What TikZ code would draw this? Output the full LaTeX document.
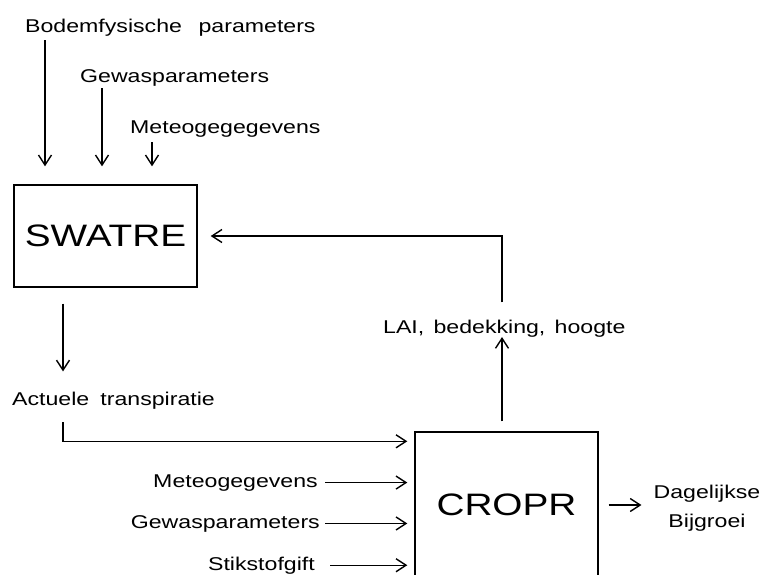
\documentclass[tikz,border=0pt]{standalone}
\usepackage{fontspec}
\setmainfont[FakeStretch=1.25]{Liberation Sans}
\usetikzlibrary{arrows.meta}
\begin{document}
\begin{tikzpicture}[x=1pt,y=-1pt,
  lbl/.style={inner sep=0pt, font=\fontsize{18.5}{29}\selectfont},
  box/.style={draw, line width=1.4pt, inner sep=0pt, font=\fontsize{31}{34}\selectfont},
  arr/.style={line width=1.4pt, -{Straight Barb[length=10pt,width=13pt]}}]
\useasboundingbox (0,0) rectangle (765,574);
\clip (0,0) rectangle (765,574);
% nodes
\node[lbl, anchor=base west] (bodem) at (25,32) {Bodemfysische\hspace{0.9em}parameters};
\node[lbl, anchor=base west] (gewas1) at (80,82) {Gewasparameters};
\node[lbl, anchor=base west] (meteo1) at (130,133) {Meteogegegevens};
\node[box, minimum width=183pt, minimum height=102pt] (swatre) at (105.5,236) {SWATRE};
\node[lbl, anchor=base west] (actueel) at (12,405) {Actuele\hspace{0.6em}transpiratie};
\node[lbl, anchor=base west] (lai) at (383,333) {LAI,\hspace{0.5em}bedekking,\hspace{0.5em}hoogte};
\node[box, minimum width=183pt, minimum height=146pt] (cropr) at (506.5,505) {CROPR};
\node[lbl, anchor=base east] (meteo2) at (318,487) {Meteogegevens};
\node[lbl, anchor=base east] (gewas2) at (320,528) {Gewasparameters};
\node[lbl, anchor=base east] (stik) at (315,570) {Stikstofgift};
\node[lbl, align=center] (dag) at (707,508) {Dagelijkse\\Bijgroei};
% x positions of vertical connectors
\coordinate (x1) at (45,0);
\coordinate (x2) at (102,0);
\coordinate (x3) at (152,0);
\coordinate (x4) at (63,0);
\coordinate (x5) at (502,0);
% connectors
\draw[arr, shorten <=4pt, shorten >=18pt] (bodem.south -| x1) -- (swatre.north -| x1);
\draw[arr, shorten <=2pt, shorten >=18pt] (gewas1.south -| x2) -- (swatre.north -| x2);
\draw[arr, shorten <=5pt, shorten >=18pt] (meteo1.south -| x3) -- (swatre.north -| x3);
\draw[arr, shorten <=16pt, shorten >=20pt] (swatre.south -| x4) -- (actueel.north -| x4);
\draw[arr, shorten <=13pt, shorten >=7pt] (actueel.south -| x4) |- ([yshift=-10pt]cropr.north west);
\draw[arr, shorten <=7pt, shorten >=7pt] (meteo2.east) -- (meteo2.east -| cropr.west);
\draw[arr, shorten <=5pt, shorten >=7pt] (gewas2.east) -- (gewas2.east -| cropr.west);
\draw[arr, shorten <=15pt, shorten >=7pt] (stik.east) -- (stik.east -| cropr.west);
\draw[arr, shorten <=10pt, shorten >=12pt] (cropr.east) -- (cropr.east -| dag.west);
\draw[arr, shorten <=10pt, shorten >=0pt] (cropr.north -| x5) -- (lai.south -| x5);
\draw[arr, shorten <=17pt, shorten >=13pt] (lai.north -| x5) |- (swatre.east);
\end{tikzpicture}
\end{document}
